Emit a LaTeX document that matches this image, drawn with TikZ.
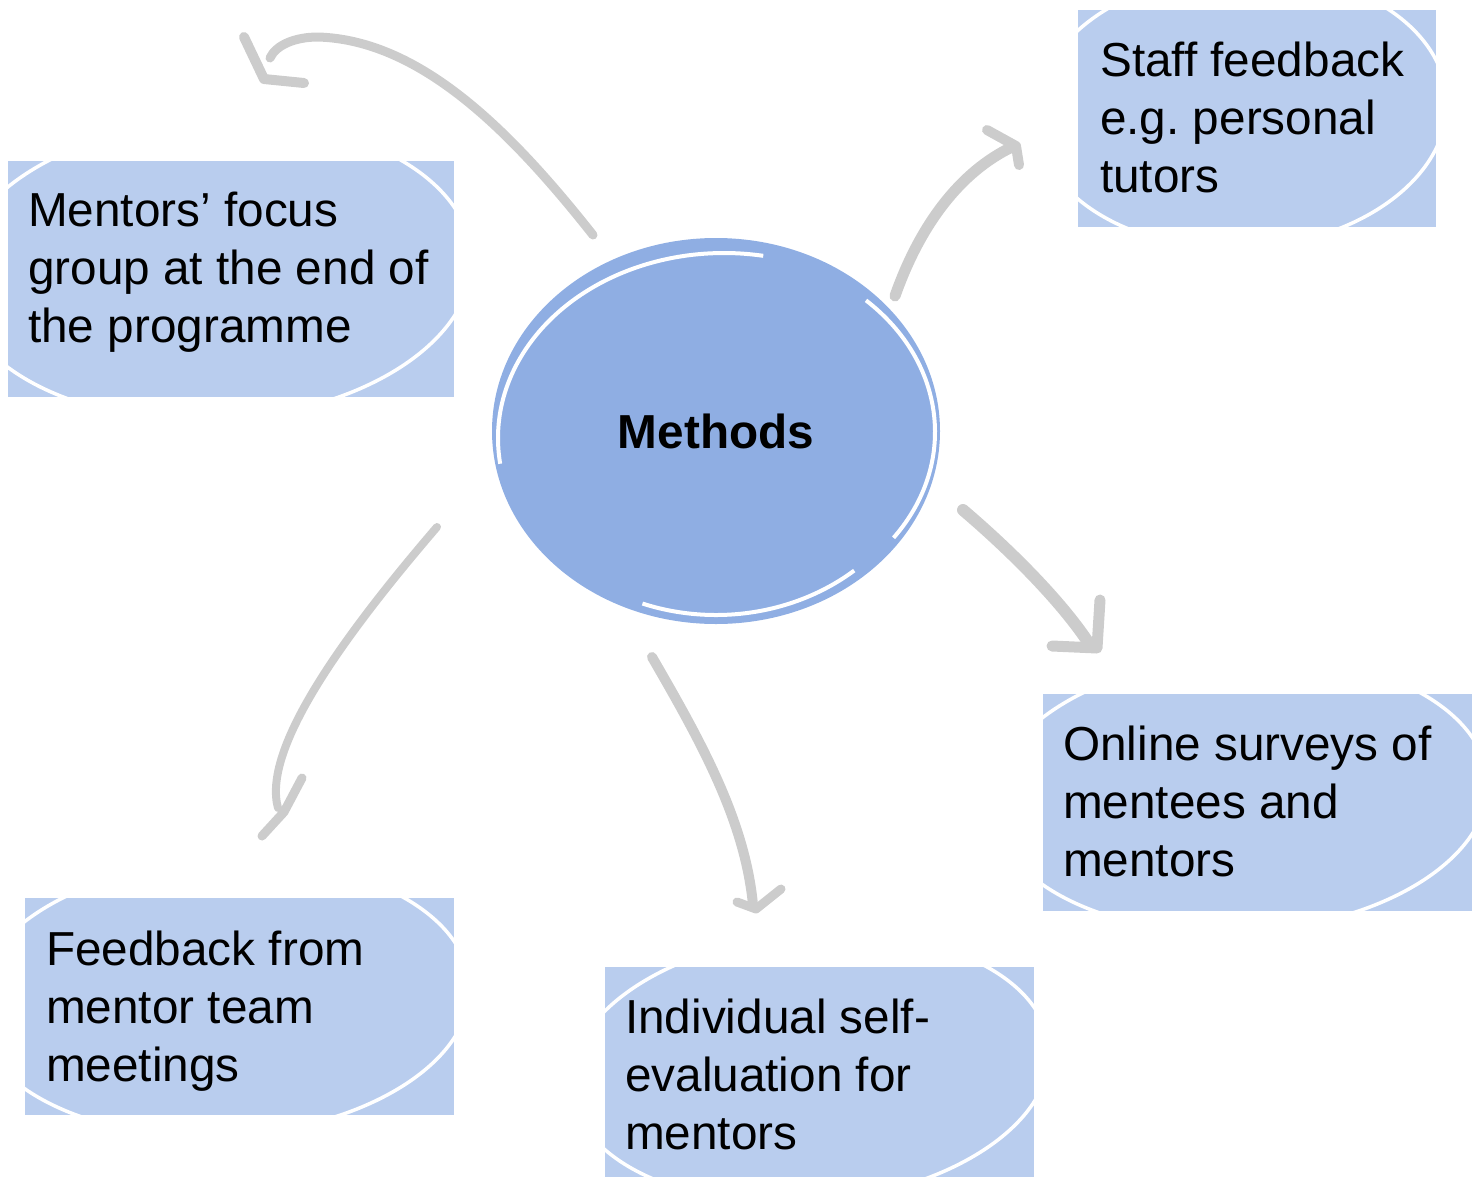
\documentclass[tikz,border=0pt]{standalone}
\usepackage{fontspec}
\setmainfont{Liberation Sans}
\usetikzlibrary{shapes.geometric}
\definecolor{boxblue}{RGB}{185,205,238}
\definecolor{methblue}{RGB}{143,174,227}
\definecolor{arrowgray}{RGB}{204,204,204}
\frenchspacing
\begin{document}
\begin{tikzpicture}[x=1pt,y=-1pt,
  box/.style={fill=boxblue, draw=none, inner sep=0, anchor=north west},
  boxtext/.style={inner sep=0, anchor=base west, font=\fontsize{47.7}{58}\selectfont},
  swoosh/.style={draw=white, line width=3.5pt},
  ring/.style={draw=white, line width=4pt},
  arr/.style={draw=arrowgray, line cap=round, line join=round}]
\useasboundingbox (0,0) rectangle (1478,1176);

% ---------- boxes ----------
\node[box, minimum width=446pt, minimum height=236pt] (bmentors) at (8,161) {};
\node[box, minimum width=358pt, minimum height=217pt] (bstaff) at (1078,10) {};
\node[box, minimum width=429pt, minimum height=217pt] (bonline) at (1043,694) {};
\node[box, minimum width=429pt, minimum height=217pt] (bfeed) at (25,898) {};
\node[box, minimum width=429pt, minimum height=217pt] (bindiv) at (605,967) {};

% white swooshes inside boxes
\begin{scope}
  \clip (bmentors.south west) rectangle (bmentors.north east);
  \draw[swoosh, rotate around={3:(214,270)}] (214,270) ellipse [x radius=258, y radius=150];
\end{scope}
\begin{scope}
  \clip (bstaff.south west) rectangle (bstaff.north east);
  \draw[swoosh, rotate around={3:(1241,110)}] (1241,110) ellipse [x radius=206, y radius=138];
\end{scope}
\begin{scope}
  \clip (bonline.south west) rectangle (bonline.north east);
  \draw[swoosh, rotate around={3:(1240,794)}] (1240,794) ellipse [x radius=248, y radius=138];
\end{scope}
\begin{scope}
  \clip (bfeed.south west) rectangle (bfeed.north east);
  \draw[swoosh, rotate around={3:(222,998)}] (222,998) ellipse [x radius=248, y radius=138];
\end{scope}
\begin{scope}
  \clip (bindiv.south west) rectangle (bindiv.north east);
  \draw[swoosh, rotate around={5:(810,1068)}] (810,1068) ellipse [x radius=240, y radius=134];
\end{scope}

% box texts
\node[boxtext] (tmentors) at (28,226) {\parbox[t]{430pt}{\raggedright Mentors’ focus\\group at the end of\\the programme}};
\node[boxtext] (tstaff) at (1100,76) {\parbox[t]{340pt}{\raggedright Staff feedback\\e.g. personal\\tutors}};
\node[boxtext] (tonline) at (1063,760) {\parbox[t]{405pt}{\raggedright Online surveys of\\mentees and\\mentors}};
\node[boxtext] (tfeed) at (46,965) {\parbox[t]{405pt}{\raggedright Feedback from\\mentor team\\meetings}};
\node[boxtext] (tindiv) at (625,1033) {\parbox[t]{405pt}{\raggedright Individual self-\\evaluation for\\mentors}};

% ---------- central ellipse ----------
\node[ellipse, fill=methblue, inner sep=0, minimum width=448pt, minimum height=386pt,
      font=\fontsize{47.7}{56}\selectfont\bfseries] (methods) at (716,431) {Methods};
\draw[ring] (724,438) ++(172:226 and 185) arc[start angle=172, end angle=280, x radius=226, y radius=185];
\draw[ring] (718,432) ++(-47:217 and 180) arc[start angle=-47, end angle=36, x radius=217, y radius=180];
\draw[ring] (716,425) ++(50:215 and 190) arc[start angle=50, end angle=110, x radius=215, y radius=190];

% ---------- arrows ----------
% to mentors' focus group (top-left)
\coordinate (a1s) at (593,235);
\coordinate (a1e) at (270,58);
\coordinate (a1t) at (264,79);
\coordinate (a1l) at (244,37);
\coordinate (a1r) at (304,83);
\draw[arr, line width=9pt] (a1s) .. controls (510,130) and (420,40) .. (318,37) .. controls (295,37) and (276,45) .. (a1e);
\draw[arr, line width=10pt] (a1l) -- (a1t) -- (a1r);

% to staff feedback
\coordinate (a2s) at (895,296);
\coordinate (a2e) at (1012,147);
\coordinate (a2t) at (1016,146);
\coordinate (a2l) at (987,130);
\coordinate (a2r) at (1019,165);
\draw[arr, line width=11pt] (a2s) .. controls (920,225) and (960,172) .. (a2e);
\draw[arr, line width=10pt] (a2l) -- (a2t) -- (a2r);

% to online surveys
\coordinate (a3s) at (963,510);
\coordinate (a3e) at (1088,642);
\coordinate (a3t) at (1097,648);
\coordinate (a3l) at (1100,600);
\coordinate (a3r) at (1052,646);
\draw[arr, line width=12pt] (a3s) .. controls (1010,550) and (1060,600) .. (a3e);
\draw[arr, line width=11pt] (a3l) -- (a3t) -- (a3r);

% to feedback from mentor team
\coordinate (a4s) at (437,527);
\coordinate (a4e) at (278,808);
\coordinate (a4t) at (284,812);
\coordinate (a4l) at (302,778);
\coordinate (a4r) at (262,836);
\draw[arr, line width=8pt] (a4s) .. controls (340,640) and (262,750) .. (a4e);
\draw[arr, line width=9pt] (a4l) -- (a4t) -- (a4r);

% to individual self-evaluation
\coordinate (a5s) at (652,657);
\coordinate (a5e) at (753,905);
\coordinate (a5t) at (756,909);
\coordinate (a5l) at (737,902);
\coordinate (a5r) at (781,889);
\draw[arr, line width=10pt] (a5s) .. controls (700,740) and (745,820) .. (a5e);
\draw[arr, line width=9pt] (a5l) -- (a5t) -- (a5r);
\end{tikzpicture}
\end{document}
